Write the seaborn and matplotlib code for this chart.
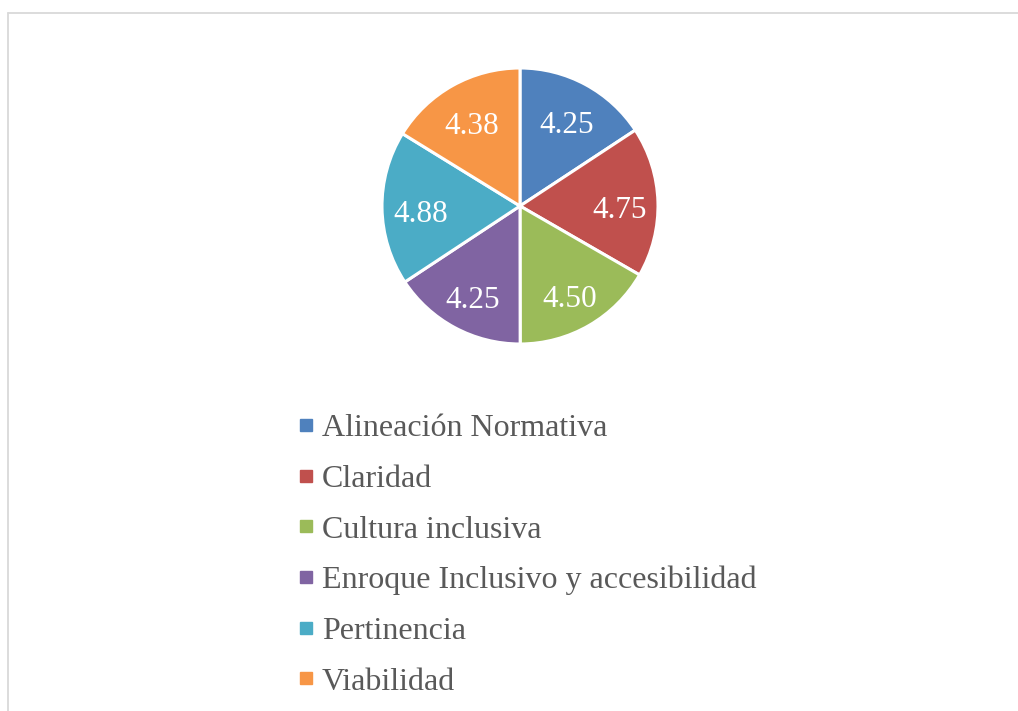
import matplotlib
matplotlib.use("Agg")
import matplotlib.pyplot as plt
from matplotlib.lines import Line2D
from matplotlib.transforms import ScaledTranslation
import seaborn as sns

categories = ["Alineación Normativa", "Claridad", "Cultura inclusiva",
              "Enroque Inclusivo y accesibilidad", "Pertinencia", "Viabilidad"]
values = [4.25, 4.75, 4.50, 4.25, 4.88, 4.38]
colors = ["#4F81BD", "#C0504D", "#9BBB59", "#8064A2", "#4BACC6", "#F79646"]

sns.set_theme(style="white")
plt.rcParams["font.family"] = ["Liberation Serif", "DejaVu Serif"]

W, H = 1018, 711
fig = plt.figure(figsize=(W / 100, H / 100), dpi=100)
fig.patch.set_facecolor("white")

cx, cy, r = 520, 206, 138
ax = fig.add_axes([(cx - r) / W, 1 - (cy + r) / H, 2 * r / W, 2 * r / H])
wedges, texts = ax.pie(
    values,
    labels=[f"{v:.2f}" for v in values],
    colors=colors,
    startangle=90,
    counterclock=False,
    labeldistance=0.72,
    wedgeprops=dict(edgecolor="white", linewidth=2.2),
    textprops=dict(color="white", fontsize=22.5, ha="center", va="center"),
)
shift = ScaledTranslation(0, -7 / 100, fig.dpi_scale_trans)
for t in texts:
    t.set_transform(t.get_transform() + shift)
ax.set_xlim(-1, 1)
ax.set_ylim(-1, 1)
ax.set_aspect("equal")
ax.axis("off")

handles = [Line2D([0], [0], marker="s", linestyle="none", markersize=8.5,
                  markerfacecolor=c, markeredgecolor=c) for c in colors]
leg = fig.legend(handles, categories, loc="upper left",
                 bbox_to_anchor=(296 / W, 1 - 414 / H),
                 frameon=False, fontsize=23, labelspacing=0.665,
                 handlelength=0.6, handletextpad=0.21, borderpad=0,
                 borderaxespad=0)
for t in leg.get_texts():
    t.set_color("#595959")

# chart area border (top and left visible)
fig.add_artist(Line2D([7.5 / W, 7.5 / W], [0, 1 - 12.5 / H], transform=fig.transFigure,
                      color="#D9D9D9", linewidth=1.3))
fig.add_artist(Line2D([7.5 / W, 1], [1 - 12.5 / H, 1 - 12.5 / H], transform=fig.transFigure,
                      color="#D9D9D9", linewidth=1.3))

fig.savefig("out.png", dpi=100, facecolor="white")
